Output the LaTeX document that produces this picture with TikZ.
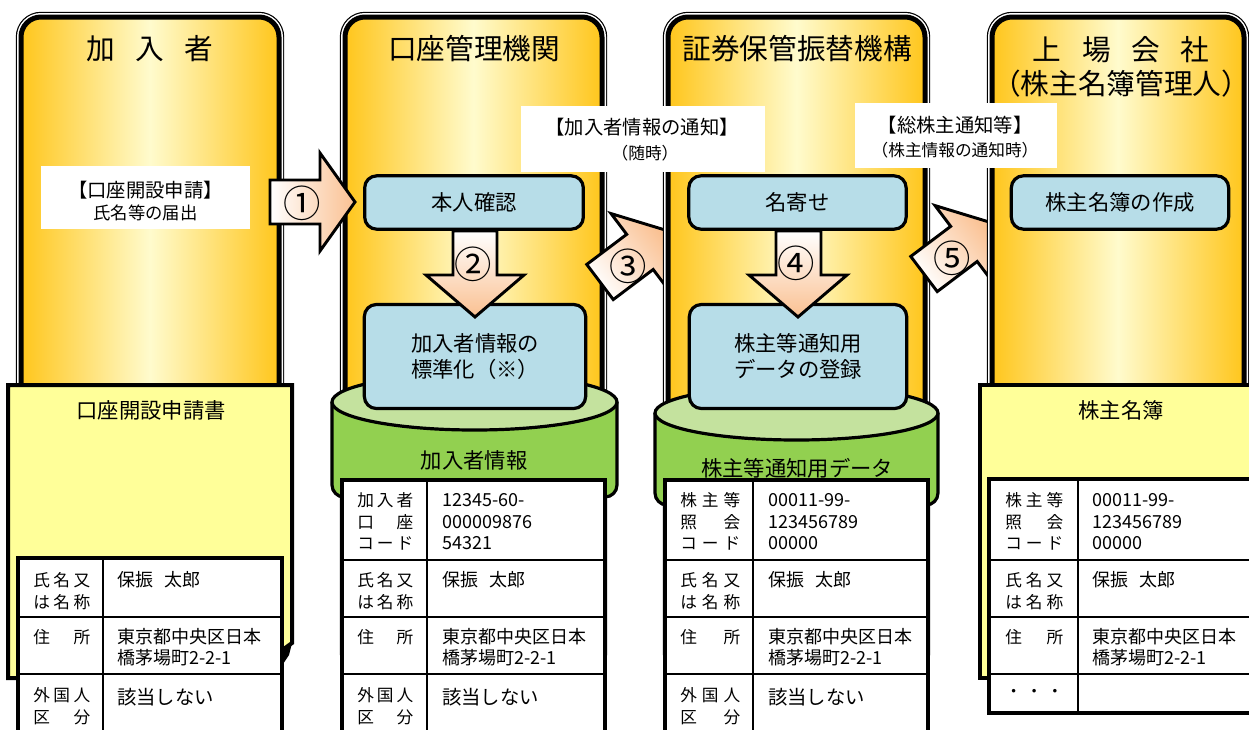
\documentclass[tikz,border=0pt]{standalone}
\usepackage{fontspec}
\setmainfont{Noto Sans CJK JP}
\definecolor{gold}{RGB}{255,198,28}
\definecolor{pale}{RGB}{255,251,205}
\definecolor{docyellow}{RGB}{255,255,153}
\definecolor{cylgreen}{RGB}{146,208,80}
\definecolor{cyltop}{RGB}{196,226,158}
\definecolor{boxblue}{RGB}{183,221,232}
\definecolor{peach}{RGB}{250,192,145}
\newcommand\fsz[2]{\fontsize{#1}{#2}\selectfont}
\newcommand\labf{\fsz{12.5}{15}}
\newcommand\valf{\fsz{13.5}{16}}
\newcommand\valbigf{\fsz{14.5}{17}}
\newcounter{tlc}
\newcommand\txtline[4]{\stepcounter{tlc}\node[anchor=west,inner sep=0pt,font=#1] (tl\arabic{tlc}) at (#2,#3) {#4};}
\newcommand\spr[2]{\makebox[#1][s]{#2}}
\newcommand\hname{保振\hspace{0.6em}太郎}
\newcommand\drawcol[4]{%
  \draw[line width=7.8pt, rounded corners=15pt] (#1,#2) rectangle (#3,#4);
  \draw[line width=6pt, white, rounded corners=15pt] (#1,#2) rectangle (#3,#4);
  \shade[left color=gold, right color=gold, middle color=pale, rounded corners=15pt] (#1,#2) rectangle (#3,#4);
  \draw[line width=3.75pt, rounded corners=15pt] (#1,#2) rectangle (#3,#4);}
\tikzset{
  bluebox/.style={draw, line width=2.4pt, fill=boxblue, rounded corners=9pt, inner sep=0pt, font=\fsz{16}{19.5}, align=center},
  arrowbody/.style={line width=2.2pt, line join=miter},
  numlabel/.style={inner sep=0pt, font=\fsz{28}{30}},
  coltitle/.style={inner sep=0pt, font=\fsz{21.5}{26}},
  doctitle/.style={inner sep=0pt, font=\fsz{16}{19}},
  notebox/.style={fill=white, inner sep=0pt},
  tableframe/.style={line width=3pt, fill=white},
  tablerule/.style={line width=1.5pt},
  cylbody/.style={line width=2.4pt, fill=cylgreen, rounded corners=9pt},
  cyltopst/.style={line width=2.4pt, fill=cyltop},
  docst/.style={line width=3pt, fill=docyellow}
}
\begin{document}
\begin{tikzpicture}[x=0.75pt,y=-0.75pt,line join=miter]
\useasboundingbox (0,0) rectangle (1249,729);
\clip (0,0) rectangle (1249,729);

% ---------------- column 1
\drawcol{21}{17}{279}{660}
\node[coltitle] (title1) at (150,49) {加\hspace{0.72em}入\hspace{0.72em}者};
\draw[docst] (8,385) -- (292,385) -- (292,643) -- (281,651) -- (281,678) -- (8,678) -- cycle;
\fill (281,651) -- (292,643) -- (289,655) -- (283,664) -- cycle;
\node[doctitle] (doc1) at (151,410) {口座開設申請書};
\draw[tableframe] (18,558) rectangle (282,760);
\draw[tablerule] (103,558) -- (103,760) (18,617) -- (282,617) (18,674) -- (282,674);
\txtline{\labf}{33}{580}{\spr{42.75pt}{氏\hfill 名\hfill 又}}
\txtline{\labf}{33}{602}{\spr{42.75pt}{は\hfill 名\hfill 称}}
\txtline{\labf}{33}{637}{\spr{42.75pt}{住\hfill 所}}
\txtline{\labf}{33}{695}{\spr{42.75pt}{外\hfill 国\hfill 人}}
\txtline{\labf}{33}{717}{\spr{42.75pt}{区\hfill 分}}
\txtline{\valf}{117}{580}{\hname}
\txtline{\valf}{117}{637}{東京都中央区日本}
\txtline{\valf}{117}{658}{橋茅場町2-2-1}
\txtline{\valbigf}{117}{697}{該当しない}

% ---------------- column 2
\drawcol{345}{17}{602}{673}
\node[coltitle] (title2) at (474,49) {口座管理機関};
\draw[cylbody] (332,402) -- (332,497) -- (617,497) -- (617,402);
\draw[cyltopst] (474.5,402) ellipse [x radius=142.5, y radius=28];
\node[doctitle] (cyl2) at (474,460) {加入者情報};
\draw[tableframe] (342,480) rectangle (605,760);
\draw[tablerule] (427,480) -- (427,760) (342,560) -- (605,560) (342,617) -- (605,617) (342,674) -- (605,674);
\txtline{\labf}{357}{500}{\spr{42pt}{加\hfill 入\hfill 者}}
\txtline{\labf}{357}{522}{\spr{42pt}{口\hfill 座}}
\txtline{\labf}{357}{543}{\spr{42pt}{コ\hfill ー\hfill ド}}
\txtline{\labf}{357}{580}{\spr{42pt}{氏\hfill 名\hfill 又}}
\txtline{\labf}{357}{602}{\spr{42pt}{は\hfill 名\hfill 称}}
\txtline{\labf}{357}{637}{\spr{42pt}{住\hfill 所}}
\txtline{\labf}{357}{695}{\spr{42pt}{外\hfill 国\hfill 人}}
\txtline{\labf}{357}{717}{\spr{42pt}{区\hfill 分}}
\txtline{\valf}{442}{500}{12345-60-}
\txtline{\valf}{442}{522}{000009876}
\txtline{\valf}{442}{543}{54321}
\txtline{\valf}{442}{580}{\hname}
\txtline{\valf}{442}{637}{東京都中央区日本}
\txtline{\valf}{442}{658}{橋茅場町2-2-1}
\txtline{\valbigf}{442}{697}{該当しない}
\node[bluebox, minimum width=164pt, minimum height=40pt] (honnin) at (474,202.5) {本人確認};
\node[bluebox, minimum width=166pt, minimum height=78pt] (std) at (475,356.5) {加入者情報の\\標準化（※）};
\shadedraw[arrowbody, top color=white, bottom color=peach] (453,231) -- (497,231) -- (497,275) -- (524,275) -- (475,317) -- (426,275) -- (453,275) -- cycle;
\node[numlabel] (n2) at (473,264) {②};

% ---------------- arrows 1 and 3
\shadedraw[arrowbody, left color=white, right color=peach] (270,180) -- (320,180) -- (320,153) -- (355,202) -- (320,251) -- (320,224) -- (270,224) -- cycle;
\node[numlabel] (n1) at (302,203) {①};
\begin{scope}[shift={(600,282)}, rotate=37]
\shadedraw[arrowbody, left color=white, right color=peach, shading angle=127] (0,-22) -- (50,-22) -- (50,-48) -- (85,0) -- (50,48) -- (50,22) -- (0,22) -- cycle;
\end{scope}
\node[numlabel] (n3) at (628,266) {③};

% ---------------- column 3
\drawcol{668}{17}{925}{673}
\node[coltitle] (title3) at (797,49) {証券保管振替機構};
\draw[cylbody] (655,413) -- (655,505) -- (938,505) -- (938,413);
\draw[cyltopst] (796.5,413) ellipse [x radius=141.5, y radius=27];
\node[doctitle] (cyl3) at (797,468) {株主等通知用データ};
\draw[tableframe] (665,480) rectangle (928,760);
\draw[tablerule] (753,480) -- (753,760) (665,560) -- (928,560) (665,617) -- (928,617) (665,674) -- (928,674);
\txtline{\labf}{680}{500}{\spr{45pt}{株\hfill 主\hfill 等}}
\txtline{\labf}{680}{522}{\spr{45pt}{照\hfill 会}}
\txtline{\labf}{680}{543}{\spr{45pt}{コ\hfill ー\hfill ド}}
\txtline{\labf}{680}{580}{\spr{45pt}{氏\hfill 名\hfill 又}}
\txtline{\labf}{680}{602}{\spr{45pt}{は\hfill 名\hfill 称}}
\txtline{\labf}{680}{637}{\spr{45pt}{住\hfill 所}}
\txtline{\labf}{680}{695}{\spr{45pt}{外\hfill 国\hfill 人}}
\txtline{\labf}{680}{717}{\spr{45pt}{区\hfill 分}}
\txtline{\valf}{768}{500}{00011-99-}
\txtline{\valf}{768}{522}{123456789}
\txtline{\valf}{768}{543}{00000}
\txtline{\valf}{768}{580}{\hname}
\txtline{\valf}{768}{637}{東京都中央区日本}
\txtline{\valf}{768}{658}{橋茅場町2-2-1}
\txtline{\valbigf}{768}{697}{該当しない}
\node[bluebox, minimum width=163pt, minimum height=40pt] (nayose) at (797.5,202.5) {名寄せ};
\node[bluebox, minimum width=163pt, minimum height=78pt] (reg) at (798,356.5) {株主等通知用\\データの登録};
\shadedraw[arrowbody, top color=white, bottom color=peach] (776,231) -- (821,231) -- (821,275) -- (847,275) -- (798,317) -- (749,275) -- (776,275) -- cycle;
\node[numlabel] (n4) at (796,263) {④};

% ---------------- arrow 5
\begin{scope}[shift={(924,274)}, rotate=37]
\shadedraw[arrowbody, left color=white, right color=peach, shading angle=127] (0,-22) -- (50,-22) -- (50,-48) -- (85,0) -- (50,48) -- (50,22) -- (0,22) -- cycle;
\end{scope}
\node[numlabel] (n5) at (952,258) {⑤};

% ---------------- column 4
\drawcol{992}{17}{1244}{673}
\node[coltitle] (title4) at (1121,50) {上\hspace{0.72em}場\hspace{0.72em}会\hspace{0.72em}社};
\node[coltitle] (title4b) at (1121,84) {（株主名簿管理人）};
\draw[docst] (980,385) rectangle (1262,678);
\node[doctitle] (doc4) at (1121,410) {株主名簿};
\draw[tableframe] (989,479) rectangle (1262,713);
\draw[tablerule] (1078,479) -- (1078,713) (989,560) -- (1262,560) (989,617) -- (1262,617) (989,674) -- (1262,674);
\txtline{\labf}{1005}{500}{\spr{43.5pt}{株\hfill 主\hfill 等}}
\txtline{\labf}{1005}{522}{\spr{43.5pt}{照\hfill 会}}
\txtline{\labf}{1005}{543}{\spr{43.5pt}{コ\hfill ー\hfill ド}}
\txtline{\labf}{1005}{580}{\spr{43.5pt}{氏\hfill 名\hfill 又}}
\txtline{\labf}{1005}{602}{\spr{43.5pt}{は\hfill 名\hfill 称}}
\txtline{\labf}{1005}{637}{\spr{43.5pt}{住\hfill 所}}
\txtline{\labf}{1005}{693}{\spr{43.5pt}{・\hfill ・\hfill ・}}
\txtline{\valf}{1092}{500}{00011-99-}
\txtline{\valf}{1092}{522}{123456789}
\txtline{\valf}{1092}{543}{00000}
\txtline{\valf}{1092}{580}{\hname}
\txtline{\valf}{1092}{637}{東京都中央区日本}
\txtline{\valf}{1092}{658}{橋茅場町2-2-1}
\node[bluebox, minimum width=163pt, minimum height=40pt] (meibo) at (1120,202.5) {株主名簿の作成};

% ---------------- note boxes
\node[notebox, minimum width=156.75pt, minimum height=47.25pt] (note1) at (145.5,197.5) {};
\node[inner sep=0pt, font=\fsz{14.5}{17}] (note1a) at (145.5,190) {【口座開設申請】};
\node[inner sep=0pt, font=\fsz{13}{15}] (note1b) at (145.5,213) {氏名等の届出};
\node[notebox, minimum width=183pt, minimum height=49.5pt] (note2) at (643,139) {};
\node[inner sep=0pt, font=\fsz{14.5}{17}] (note2a) at (642,127) {【加入者情報の通知】};
\node[inner sep=0pt, font=\fsz{12.5}{15}] (note2b) at (645,153) {（随時）};
\node[notebox, minimum width=151.5pt, minimum height=48.75pt] (note3) at (956,135.5) {};
\node[inner sep=0pt, font=\fsz{14.5}{17}] (note3a) at (955,125) {【総株主通知等】};
\node[inner sep=0pt, font=\fsz{12.5}{15}] (note3b) at (955,150) {（株主情報の通知時）};
\end{tikzpicture}
\end{document}
